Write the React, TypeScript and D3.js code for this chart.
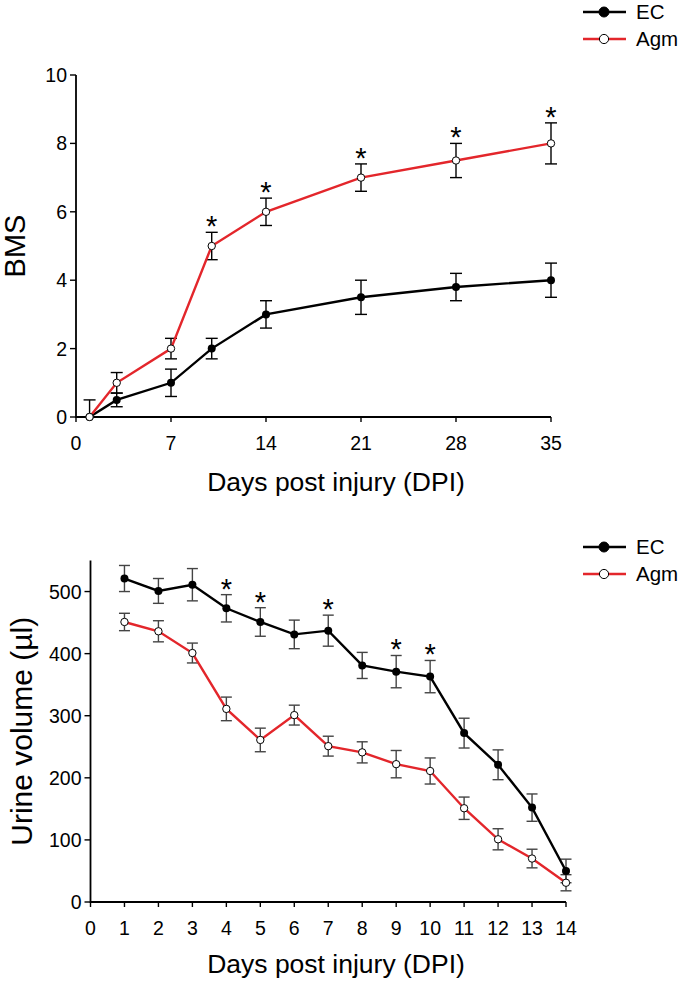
import React from "react";
import * as d3 from "d3";

const W = 679,
  H = 985;
const RED = "#e3262b";
const FONT = "'Liberation Sans', Arial, sans-serif";

// BMS panel
const bmsDays = [1, 3, 7, 10, 14, 21, 28, 35];
const bmsEC = [0, 0.5, 1, 2, 3, 3.5, 3.8, 4];
const bmsECErr = [0, 0.2, 0.4, 0.3, 0.4, 0.5, 0.4, 0.5];
const bmsAgm = [0, 1, 2, 5, 6, 7, 7.5, 8];
const bmsAgmErr = [0.5, 0.3, 0.3, 0.4, 0.4, 0.4, 0.5, 0.6];
const bmsStarDays = [10, 14, 21, 28, 35];
const bmsXTicks = [0, 7, 14, 21, 28, 35];
const bmsYTicks = [0, 2, 4, 6, 8, 10];

// urine panel
const urineDays = [1, 2, 3, 4, 5, 6, 7, 8, 9, 10, 11, 12, 13, 14];
const urineEC = [521, 501, 511, 473, 451, 431, 437, 381, 371, 363, 272, 221, 152, 50];
const urineECErr = [21, 20, 26, 22, 23, 23, 25, 21, 26, 26, 24, 24, 22, 19];
const urineAgm = [451, 436, 401, 311, 261, 301, 251, 241, 222, 211, 151, 101, 70, 31];
const urineAgmErr = [14, 17, 16, 19, 19, 16, 16, 17, 22, 21, 18, 17, 15, 13];
const urineStarDays = [4, 5, 7, 9, 10];
const urineXTicks = [0, 1, 2, 3, 4, 5, 6, 7, 8, 9, 10, 11, 12, 13, 14];
const urineYTicks = [0, 100, 200, 300, 400, 500];

const seriesNames = ["EC", "Agm"];

type Pt = { x: number; y: number; e: number };

function Panel(props: {
  days: number[];
  ec: number[];
  ecErr: number[];
  agm: number[];
  agmErr: number[];
  stars: number[];
  starOn: "ec" | "agm";
  xTicks: number[];
  yTicks: number[];
  xDomain: [number, number];
  yDomain: [number, number];
  xRange: [number, number];
  yRange: [number, number];
  yTitle: string;
  yTitleX: number;
  yTitleSize: number;
  xTitleY: number;
  xLabelY: number;
  legendY: number;
  errColor: string;
  capW: number;
}) {
  const p = props;
  const x = d3.scaleLinear().domain(p.xDomain).range(p.xRange);
  const y = d3.scaleLinear().domain(p.yDomain).range(p.yRange);
  const line = d3
    .line<Pt>()
    .x(d => x(d.x))
    .y(d => y(d.y));
  const ec: Pt[] = p.days.map((d, i) => ({ x: d, y: p.ec[i], e: p.ecErr[i] }));
  const agm: Pt[] = p.days.map((d, i) => ({ x: d, y: p.agm[i], e: p.agmErr[i] }));
  const x0 = p.xRange[0];
  const y0 = p.yRange[0];

  const errBars = (pts: Pt[], key: string) =>
    pts
      .filter(d => d.e > 0)
      .map((d, i) => {
        const cx = x(d.x);
        const lo = Math.max(d.y - d.e, p.yDomain[0]);
        const hi = d.y + d.e;
        return (
          <g key={key + i} stroke={p.errColor} strokeWidth={1.4}>
            <line x1={cx} x2={cx} y1={y(lo)} y2={y(hi)} />
            <line x1={cx - p.capW / 2} x2={cx + p.capW / 2} y1={y(hi)} y2={y(hi)} />
            {d.y - d.e >= p.yDomain[0] && (
              <line x1={cx - p.capW / 2} x2={cx + p.capW / 2} y1={y(lo)} y2={y(lo)} />
            )}
          </g>
        );
      });

  const starPts = (p.starOn === "ec" ? ec : agm).filter(d => p.stars.includes(d.x));

  return (
    <g fontFamily={FONT}>
      {/* axes */}
      <g stroke="#000" strokeWidth={1.8} fill="none">
        <line x1={x0} x2={x0} y1={y0 + 0.9} y2={p.yRange[1]} />
        <line x1={x0} x2={p.xRange[1]} y1={y0} y2={y0} />
        {p.yTicks.map(t => (
          <line key={"yt" + t} x1={x0 - 6} x2={x0} y1={y(t)} y2={y(t)} strokeWidth={1.4} />
        ))}
        {p.xTicks.map(t => (
          <line key={"xt" + t} x1={x(t)} x2={x(t)} y1={y0} y2={y0 + 5} strokeWidth={1.4} />
        ))}
      </g>
      {p.yTicks.map(t => (
        <text key={"yl" + t} x={x0 - 9} y={y(t)} dy="0.36em" textAnchor="end" fontSize={19.5}>
          {t}
        </text>
      ))}
      {p.xTicks.map(t => (
        <text key={"xl" + t} x={x(t)} y={p.xLabelY} textAnchor="middle" fontSize={19.5}>
          {t}
        </text>
      ))}
      <text x={336} y={p.xTitleY} textAnchor="middle" fontSize={26.5}>
        Days post injury (DPI)
      </text>
      <text
        transform={`translate(${p.yTitleX},${(p.yRange[0] + p.yRange[1]) / 2}) rotate(-90)`}
        textAnchor="middle"
        fontSize={p.yTitleSize}
      >
        {p.yTitle}
      </text>

      {/* series */}
      {errBars(ec, "eb")}
      {errBars(agm, "ab")}
      <path d={line(ec) || ""} fill="none" stroke="#000" strokeWidth={2.4} />
      <path d={line(agm) || ""} fill="none" stroke={RED} strokeWidth={2.4} />
      {ec.map((d, i) => (
        <circle key={"ec" + i} cx={x(d.x)} cy={y(d.y)} r={4} fill="#000" />
      ))}
      {agm.map((d, i) => (
        <circle key={"ag" + i} cx={x(d.x)} cy={y(d.y)} r={3.7} fill="#fff" stroke="#000" strokeWidth={1} />
      ))}
      {starPts.map((d, i) => (
        <text key={"st" + i} x={x(d.x)} y={y(d.y + d.e) + 4} textAnchor="middle" fontSize={29}>
          *
        </text>
      ))}

      {/* legend */}
      {seriesNames.map((name, i) => {
        const ly = p.legendY + i * 27;
        const isEC = i === 0;
        return (
          <g key={name}>
            <line x1={583} x2={626} y1={ly} y2={ly} stroke={isEC ? "#000" : RED} strokeWidth={2.6} />
            <circle
              cx={604}
              cy={ly}
              r={isEC ? 5 : 4.6}
              fill={isEC ? "#000" : "#fff"}
              stroke="#000"
              strokeWidth={1}
            />
            <text x={636} y={ly} dy="0.36em" fontSize={20.5}>
              {name}
            </text>
          </g>
        );
      })}
    </g>
  );
}

export default function App() {
  return (
    <svg width={W} height={H} style={{ position: "absolute", left: 0, top: 0, background: "#fff" }}>
      <rect width={W} height={H} fill="#fff" />
      <Panel
        days={bmsDays}
        ec={bmsEC}
        ecErr={bmsECErr}
        agm={bmsAgm}
        agmErr={bmsAgmErr}
        stars={bmsStarDays}
        starOn="agm"
        xTicks={bmsXTicks}
        yTicks={bmsYTicks}
        xDomain={[0, 35]}
        yDomain={[0, 10]}
        xRange={[76, 551]}
        yRange={[417, 75]}
        yTitle="BMS"
        yTitleX={25}
        yTitleSize={29}
        xTitleY={491}
        xLabelY={450}
        legendY={12}
        errColor="#000"
        capW={12}
      />
      <Panel
        days={urineDays}
        ec={urineEC}
        ecErr={urineECErr}
        agm={urineAgm}
        agmErr={urineAgmErr}
        stars={urineStarDays}
        starOn="ec"
        xTicks={urineXTicks}
        yTicks={urineYTicks}
        xDomain={[0, 14]}
        yDomain={[0, 550]}
        xRange={[90.5, 566]}
        yRange={[902, 560.5]}
        yTitle="Urine volume (µl)"
        yTitleX={32}
        yTitleSize={30}
        xTitleY={973}
        xLabelY={935}
        legendY={547}
        errColor="#444"
        capW={11}
      />
    </svg>
  );
}
